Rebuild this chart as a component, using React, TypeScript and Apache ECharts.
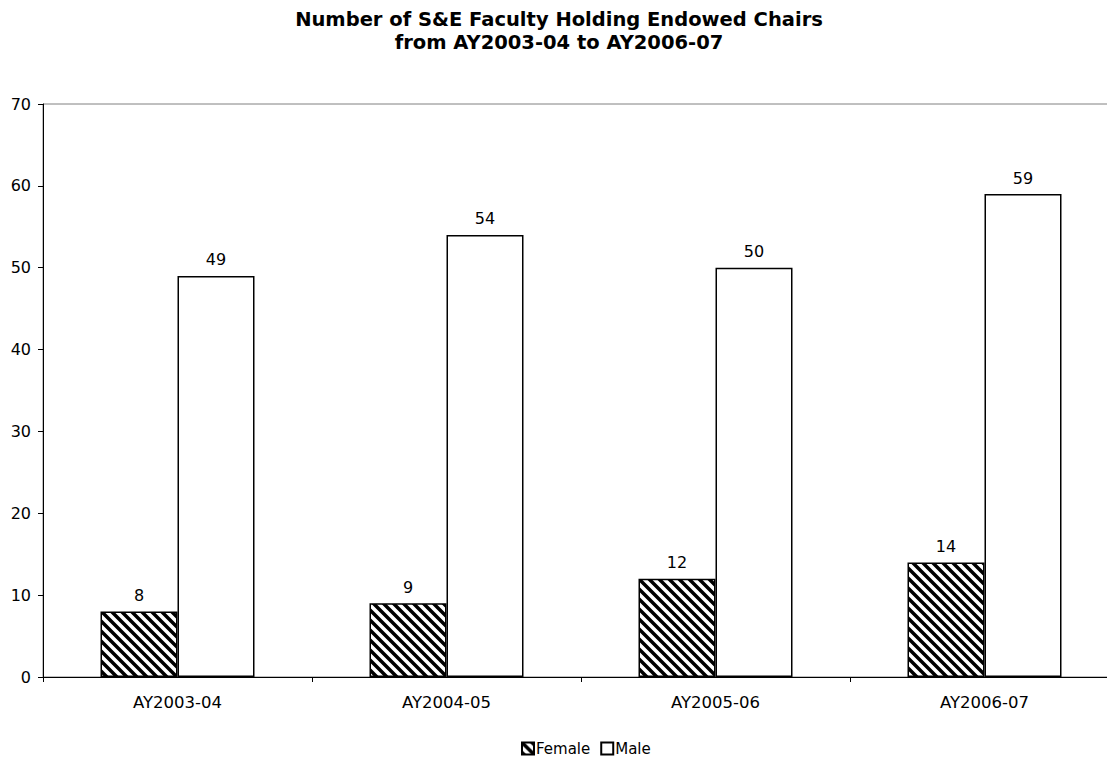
import React, { useEffect, useRef } from "react";
import * as echarts from "echarts";

const categories = ["AY2003-04", "AY2004-05", "AY2005-06", "AY2006-07"];
const female = [8, 9, 12, 14];
const male = [49, 54, 50, 59];
const titleLines = ["Number of S&E Faculty Holding Endowed Chairs", "from AY2003-04 to AY2006-07"];

function makeHatch(): string {
  const c = document.createElement("canvas");
  c.width = 10;
  c.height = 10;
  const ctx = c.getContext("2d")!;
  ctx.fillStyle = "#ffffff";
  ctx.fillRect(0, 0, 10, 10);
  ctx.strokeStyle = "#000000";
  ctx.lineWidth = 3.5;
  ctx.beginPath();
  for (const off of [-10, 0, 10]) {
    ctx.moveTo(off - 2, -2);
    ctx.lineTo(off + 12, 12);
  }
  ctx.stroke();
  return c.toDataURL();
}

export default function App() {
  const ref = useRef<HTMLDivElement>(null);
  useEffect(() => {
    if (!ref.current) return;
    const chart = echarts.init(ref.current, null, { renderer: "svg" });
    const hatch = { image: makeHatch(), repeat: "repeat" } as any;
    const font = "DejaVu Sans";
    chart.setOption({
      animation: false,
      backgroundColor: "#ffffff",
      textStyle: { fontFamily: font },
      title: {
        text: titleLines.join("\n"),
        left: 554,
        textAlign: "center",
        top: 3,
        textStyle: { fontFamily: font, fontSize: 19.5, fontWeight: "bold", color: "#000", lineHeight: 23 },
      },
      legend: {
        left: 516,
        top: 736,
        itemWidth: 12,
        itemHeight: 12,
        itemGap: 10,
        icon: "rect",
        textStyle: { fontFamily: font, fontSize: 15, color: "#000", padding: [0, 0, 0, -3] },
        data: ["Female", "Male"],
      },
      grid: {
        left: 43,
        top: 104,
        width: 1076,
        height: 573,
        show: true,
        borderColor: "#808080",
        borderWidth: 1,
        backgroundColor: "transparent",
      },
      xAxis: {
        type: "category",
        data: categories,
        axisLine: { lineStyle: { color: "#000", width: 1 } },
        axisTick: { show: true, length: 5, lineStyle: { color: "#000" } },
        axisLabel: { color: "#000", fontSize: 16.5, fontFamily: font, margin: 17 },
      },
      yAxis: {
        type: "value",
        min: 0,
        max: 70,
        interval: 10,
        axisLine: { show: true, lineStyle: { color: "#000", width: 1 } },
        axisTick: { show: true, length: 5, lineStyle: { color: "#000" } },
        splitLine: { show: false },
        axisLabel: { color: "#000", fontSize: 16, fontFamily: font, margin: 12 },
      },
      series: [
        {
          name: "Female",
          type: "bar",
          data: female,
          barWidth: 77,
          barGap: "0%",
          itemStyle: { color: hatch, borderColor: "#000", borderWidth: 1.5 },
          label: { show: true, position: "top", distance: 8, color: "#000", fontSize: 16, fontFamily: font },
        },
        {
          name: "Male",
          type: "bar",
          data: male,
          barWidth: 77,
          barGap: "0%",
          itemStyle: { color: "#ffffff", borderColor: "#000", borderWidth: 1.5 },
          label: { show: true, position: "top", distance: 8, color: "#000", fontSize: 16, fontFamily: font },
        },
      ],
    });
    return () => chart.dispose();
  }, []);
  return (
    <div style={{ position: "absolute", left: 0, top: 0, width: 1107, height: 757, overflow: "hidden" }}>
      <div ref={ref} style={{ width: 1130, height: 757 }} />
    </div>
  );
}
